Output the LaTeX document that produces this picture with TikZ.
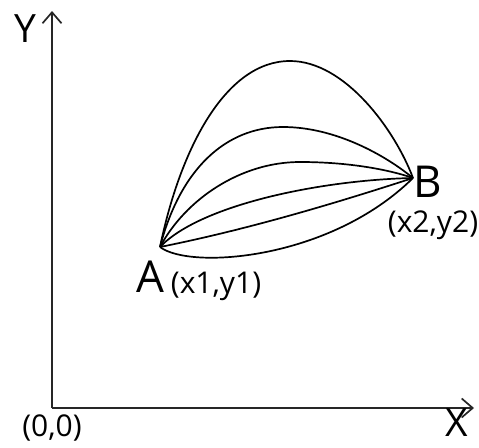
\documentclass[tikz,border=0pt]{standalone}
\usepackage{fontspec}
\setmainfont{Open Sans}
\usetikzlibrary{arrows.meta}
\begin{document}
\begin{tikzpicture}[x=1pt,y=-1pt,
  axis/.style={line width=2pt, draw=black!85, -{Straight Barb[length=11pt,width=19pt,line width=1.7pt]}},
  trajectory/.style={line width=1.7pt, draw=black},
  biglbl/.style={inner sep=0pt, anchor=base, font=\fontsize{44}{44}\selectfont},
  axlbl/.style={inner sep=0pt, anchor=base, font=\fontsize{39}{39}\selectfont},
  smalllbl/.style={inner sep=0pt, anchor=base, font=\fontsize{30}{30}\selectfont}]
\useasboundingbox (0,0) rectangle (479,447);
% axes
\coordinate (O) at (52,408);
\coordinate (Ytip) at (52,11);
\coordinate (Xtip) at (474,408);
\draw[axis] (O) -- (Ytip);
\draw[axis] (O) -- (Xtip);
% points
\coordinate (A) at (160,247);
\coordinate (B) at (413,178);
\coordinate (P1) at (290,61);
\coordinate (P2) at (283,127);
\coordinate (P3) at (300,162);
% curves
\draw[trajectory] (A) .. controls (180,150) and (225,61) .. (P1)
                      .. controls (345,61) and (395,130) .. (B);
\draw[trajectory] (A) .. controls (180,170) and (225,127) .. (P2)
                      .. controls (335,127) and (385,155) .. (B);
\draw[trajectory] (A) .. controls (185,200) and (240,162) .. (P3)
                      .. controls (350,162) and (390,170) .. (B);
\draw[trajectory] (A) .. controls (200,205) and (320,180) .. (B);
\draw[trajectory] (A) .. controls (245,230) and (330,205) .. (B);
\draw[trajectory] (A) .. controls (190,270) and (330,260) .. (B);
% labels
\node[axlbl] (ylbl) at (25,42) {Y};
\node[axlbl] (xlbl) at (457,436) {X};
\node[smalllbl] (olbl) at (52,436) {(0,0)};
\node[biglbl] (albl) at (150,292) {A};
\node[smalllbl] (acoord) at (216,293) {(x1,y1)};
\node[biglbl] (blbl) at (428,197) {B};
\node[smalllbl] (bcoord) at (433,232) {(x2,y2)};
\end{tikzpicture}
\end{document}
